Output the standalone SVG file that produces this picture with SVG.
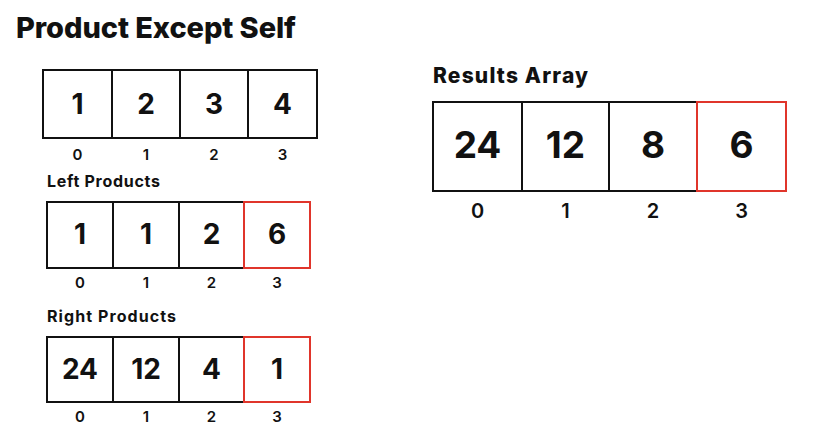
<svg xmlns="http://www.w3.org/2000/svg" width="818" height="426" viewBox="0 0 818 426">
<style>
text{font-family:Inter,"Noto Sans","Liberation Sans",sans-serif;fill:#111;text-anchor:middle}
.title{font-size:29px;font-weight:800;text-anchor:start}
.label{font-size:16px;font-weight:700;text-anchor:start}
.rlabel{font-size:21px;font-weight:800;text-anchor:start}
.cell{fill:#fff;stroke:#111;stroke-width:2}
.red{fill:none;stroke:#e0352b;stroke-width:2}
.v{font-size:28px;font-weight:700}
.vb{font-size:37px;font-weight:700}
.i{font-size:15px;font-weight:600}
.ib{font-size:20px;font-weight:600}
</style>
<rect width="818" height="426" fill="#fff"/>
<text class="title" x="16" y="38" textLength="280" lengthAdjust="spacing">Product Except Self</text>

<g id="input">
<rect class="cell" x="43" y="70" width="69" height="68"/>
<rect class="cell" x="112" y="70" width="68" height="68"/>
<rect class="cell" x="180" y="70" width="68" height="68"/>
<rect class="cell" x="248" y="70" width="69" height="68"/>
<text class="v" x="77.5" y="114">1</text>
<text class="v" x="146" y="114">2</text>
<text class="v" x="214" y="114">3</text>
<text class="v" x="282.5" y="114">4</text>
<text class="i" x="77.5" y="160">0</text>
<text class="i" x="146" y="160">1</text>
<text class="i" x="214" y="160">2</text>
<text class="i" x="282.5" y="160">3</text>
</g>

<g id="left">
<text class="label" x="47" y="187" textLength="113" lengthAdjust="spacing">Left Products</text>
<rect class="cell" x="47" y="202" width="66" height="66"/>
<rect class="cell" x="113" y="202" width="66" height="66"/>
<rect class="cell" x="179" y="202" width="65" height="66"/>
<rect class="red" x="244" y="202" width="66" height="66"/>
<text class="v" x="80" y="244">1</text>
<text class="v" x="146" y="244">1</text>
<text class="v" x="211.5" y="244">2</text>
<text class="v" x="277" y="244">6</text>
<text class="i" x="80" y="288">0</text>
<text class="i" x="146" y="288">1</text>
<text class="i" x="211.5" y="288">2</text>
<text class="i" x="277" y="288">3</text>
</g>

<g id="right">
<text class="label" x="47" y="322" textLength="129" lengthAdjust="spacing">Right Products</text>
<rect class="cell" x="47" y="337" width="66" height="65"/>
<rect class="cell" x="113" y="337" width="66" height="65"/>
<rect class="cell" x="179" y="337" width="65" height="65"/>
<rect class="red" x="244" y="337" width="66" height="65"/>
<text class="v" x="80" y="379">24</text>
<text class="v" x="146" y="379">12</text>
<text class="v" x="211.5" y="379">4</text>
<text class="v" x="277" y="379">1</text>
<text class="i" x="80" y="422">0</text>
<text class="i" x="146" y="422">1</text>
<text class="i" x="211.5" y="422">2</text>
<text class="i" x="277" y="422">3</text>
</g>

<g id="results">
<text class="rlabel" x="433" y="83" textLength="155" lengthAdjust="spacing">Results Array</text>
<rect class="cell" x="433" y="102" width="89" height="89"/>
<rect class="cell" x="522" y="102" width="87" height="89"/>
<rect class="cell" x="609" y="102" width="88" height="89"/>
<rect class="red" x="697" y="102" width="89" height="89"/>
<text class="vb" x="477.5" y="158">24</text>
<text class="vb" x="565.5" y="158">12</text>
<text class="vb" x="653" y="158">8</text>
<text class="vb" x="741.5" y="158">6</text>
<text class="ib" x="477.5" y="218">0</text>
<text class="ib" x="565.5" y="218">1</text>
<text class="ib" x="653" y="218">2</text>
<text class="ib" x="741.5" y="218">3</text>
</g>
<g id="connectors"/>
</svg>
